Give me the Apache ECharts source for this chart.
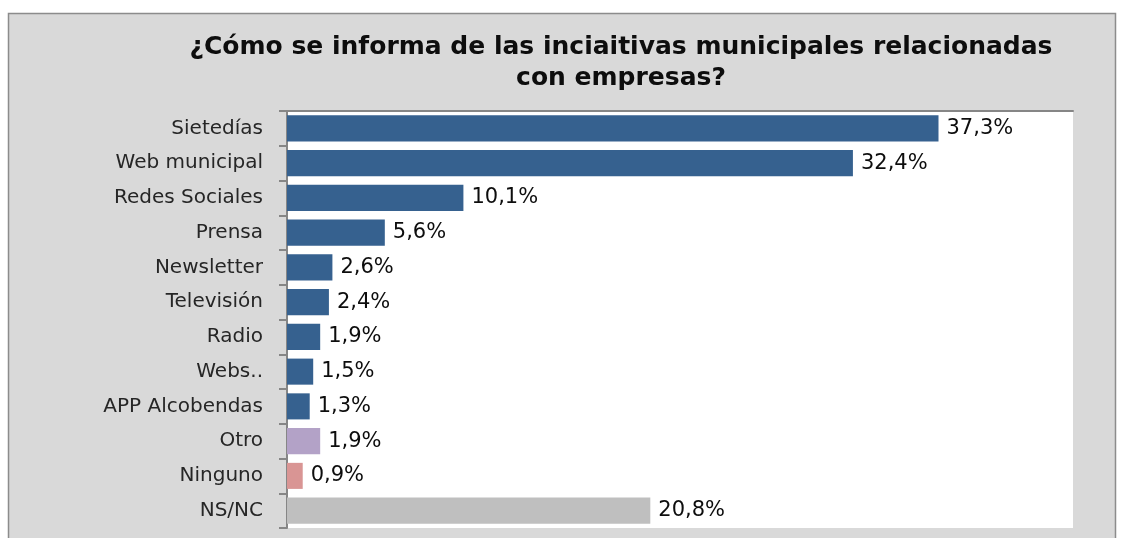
<!DOCTYPE html>
<html>
<head>
<meta charset="utf-8">
<script src="https://cdn.jsdelivr.net/npm/echarts@6/dist/echarts.min.js"></script>
<style>
html, body { margin: 0; padding: 0; background: #ffffff; }
#main { width: 1123px; height: 538px; }
</style>
</head>
<body>
<div id="main"></div>
<script>
// categorías y valores (%)
var categories = ['Sietedías', 'Web municipal', 'Redes Sociales', 'Prensa', 'Newsletter', 'Televisión', 'Radio', 'Webs..', 'APP Alcobendas', 'Otro', 'Ninguno', 'NS/NC'];
var values = [37.3, 32.4, 10.1, 5.6, 2.6, 2.4, 1.9, 1.5, 1.3, 1.9, 0.9, 20.8];
var barColors = ['#36618f', '#36618f', '#36618f', '#36618f', '#36618f', '#36618f', '#36618f', '#36618f', '#36618f', '#b3a2c7', '#d99594', '#bfbfbf'];
var titleText = '¿Cómo se informa de las inciaitivas municipales relacionadas\ncon empresas?';

var font = 'DejaVu Sans';
var chart = echarts.init(document.getElementById('main'));

chart.setOption({
    backgroundColor: '#ffffff',
    animation: false,
    graphic: [{
        // marco gris del gráfico
        type: 'rect',
        z: -10,
        shape: { x: 8.5, y: 13.5, width: 1107, height: 540 },
        style: { fill: '#d9d9d9', stroke: '#8c8c8c', lineWidth: 1.5 }
    }],
    title: {
        text: titleText,
        left: 616,
        top: 27,
        textAlign: 'center',
        textStyle: {
            fontFamily: font,
            fontWeight: 'bold',
            fontSize: 25,
            lineHeight: 31,
            color: '#0d0d0d'
        }
    },
    grid: {
        left: 287,
        right: 50,
        top: 111,
        bottom: 10,
        show: true,
        backgroundColor: '#ffffff',
        borderWidth: 0
    },
    xAxis: {
        type: 'value',
        min: 0,
        max: 45,
        position: 'top',
        axisLine: {
            show: true,
            lineStyle: { color: '#868686', width: 2 }
        },
        axisTick: { show: false },
        axisLabel: { show: false },
        splitLine: { show: false }
    },
    yAxis: {
        type: 'category',
        data: categories,
        inverse: true,
        axisLine: {
            show: true,
            lineStyle: { color: '#868686', width: 2 }
        },
        axisTick: {
            show: true,
            length: 8,
            lineStyle: { color: '#868686', width: 2 }
        },
        axisLabel: {
            fontFamily: font,
            fontSize: 20,
            color: '#262626',
            margin: 24
        },
        splitLine: { show: false }
    },
    series: [{
        type: 'bar',
        barWidth: '75%',
        data: values.map(function (v, i) {
            return { value: v, itemStyle: { color: barColors[i] } };
        }),
        label: {
            show: true,
            position: 'right',
            distance: 8,
            fontFamily: font,
            fontSize: 21,
            color: '#0d0d0d',
            formatter: function (p) {
                return p.value.toFixed(1).replace('.', ',') + '%';
            }
        }
    }]
});
</script>
</body>
</html>
